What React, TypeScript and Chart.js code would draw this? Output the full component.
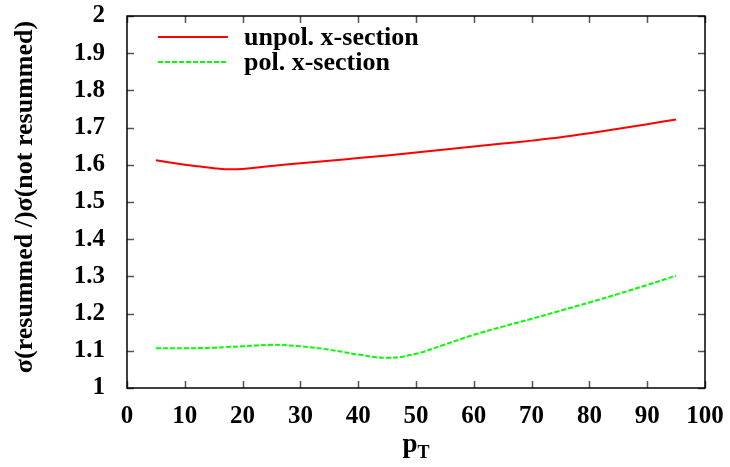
import React, { useEffect, useRef } from "react";
import { Chart, registerables } from "chart.js";

Chart.register(...registerables);

const pT = [5, 10, 15, 17, 20, 25, 30, 35, 40, 45, 50, 55, 60, 65, 70, 75, 80, 85, 90, 95];
const unpol = [1.612, 1.6, 1.591, 1.588, 1.589, 1.597, 1.604, 1.611, 1.618, 1.625, 1.633, 1.641, 1.649, 1.657, 1.665, 1.674, 1.685, 1.697, 1.709, 1.722];
const pol = [1.107, 1.107, 1.108, 1.11, 1.112, 1.116, 1.112, 1.103, 1.09, 1.081, 1.092, 1.117, 1.143, 1.165, 1.186, 1.208, 1.23, 1.253, 1.277, 1.302];
const seriesLabels = ["unpol. x-section", "pol. x-section"];
const xTickValues = [0, 10, 20, 30, 40, 50, 60, 70, 80, 90, 100];
const yTickLabels = ["1", "1.1", "1.2", "1.3", "1.4", "1.5", "1.6", "1.7", "1.8", "1.9", "2"];
const yLabel = "σ(resummed /)σ(not resummed)";
const xLabelMain = "p";
const xLabelSub = "T";

const SERIF = "'Liberation Serif', 'Times New Roman', serif";

const framePlugin = {
  id: "frame",
  afterDraw(chart: any) {
    const { ctx, chartArea: a, scales } = chart;
    ctx.save();
    // inner ticks
    ctx.strokeStyle = "#555";
    ctx.lineWidth = 1.5;
    const tl = 7;
    ctx.beginPath();
    xTickValues.forEach((v) => {
      const px = Math.round(scales.x.getPixelForValue(v)) + 0.5;
      ctx.moveTo(px, a.bottom);
      ctx.lineTo(px, a.bottom - tl);
      ctx.moveTo(px, a.top);
      ctx.lineTo(px, a.top + tl);
    });
    yTickLabels.forEach((s) => {
      const py = Math.round(scales.y.getPixelForValue(parseFloat(s))) + 0.5;
      ctx.moveTo(a.left, py);
      ctx.lineTo(a.left + tl, py);
      ctx.moveTo(a.right, py);
      ctx.lineTo(a.right - tl, py);
    });
    ctx.stroke();
    // border
    ctx.strokeStyle = "#000";
    ctx.lineWidth = 1.5;
    ctx.strokeRect(a.left, a.top, a.right - a.left, a.bottom - a.top);

    // legend
    const ds = chart.data.datasets;
    ctx.font = `bold 26px ${SERIF}`;
    ctx.textBaseline = "middle";
    ctx.textAlign = "left";
    ds.forEach((d: any, i: number) => {
      const y = 37 + i * 25;
      ctx.strokeStyle = d.borderColor;
      ctx.lineWidth = 2;
      ctx.setLineDash(d.borderDash || []);
      ctx.beginPath();
      ctx.moveTo(158, y);
      ctx.lineTo(228, y);
      ctx.stroke();
      ctx.setLineDash([]);
      ctx.fillStyle = "#000";
      ctx.fillText(d.label, 244, y + 1);
    });

    // y axis title
    ctx.save();
    ctx.translate(25, 197);
    ctx.rotate(-Math.PI / 2);
    ctx.font = `bold 26px ${SERIF}`;
    ctx.textAlign = "center";
    ctx.textBaseline = "middle";
    ctx.fillText(yLabel, 0, 0);
    ctx.restore();

    // x axis title
    ctx.font = `bold 27px ${SERIF}`;
    const w1 = ctx.measureText(xLabelMain).width;
    ctx.font = `bold 18px ${SERIF}`;
    const w2 = ctx.measureText(xLabelSub).width;
    const x0 = 416 - (w1 + w2) / 2;
    ctx.textAlign = "left";
    ctx.textBaseline = "alphabetic";
    ctx.font = `bold 27px ${SERIF}`;
    ctx.fillText(xLabelMain, x0, 452);
    ctx.font = `bold 18px ${SERIF}`;
    ctx.fillText(xLabelSub, x0 + w1, 458);
    ctx.restore();
  },
};

export default function App() {
  const ref = useRef<HTMLCanvasElement | null>(null);
  useEffect(() => {
    if (!ref.current) return;
    const chart = new Chart(ref.current, {
      type: "line",
      data: {
        datasets: [
          {
            label: seriesLabels[0],
            data: pT.map((x, i) => ({ x, y: unpol[i] })),
            borderColor: "#ff0000",
            borderWidth: 2,
            pointRadius: 0,
            tension: 0.4,
            fill: false,
          },
          {
            label: seriesLabels[1],
            data: pT.map((x, i) => ({ x, y: pol[i] })),
            borderColor: "#00ff00",
            borderWidth: 2,
            borderDash: [5, 2],
            pointRadius: 0,
            tension: 0.4,
            fill: false,
          },
        ],
      },
      options: {
        animation: false,
        responsive: false,
        devicePixelRatio: 1,
        layout: { padding: { top: 16, right: 25, left: 0, bottom: 0 } },
        plugins: { legend: { display: false }, tooltip: { enabled: false } },
        scales: {
          x: {
            type: "linear",
            min: 0,
            max: 100,
            grid: { display: false },
            border: { display: false },
            afterBuildTicks: (s: any) => {
              s.ticks = xTickValues.map((v) => ({ value: v }));
            },
            afterFit: (s: any) => {
              s.height = 79;
              s.paddingLeft = 0;
              s.paddingRight = 0;
            },
            ticks: {
              color: "#000",
              padding: 6,
              maxRotation: 0,
              autoSkip: false,
              font: { family: SERIF, size: 25, weight: "bold" },
              callback: (v: any) => String(v),
            },
          },
          y: {
            type: "linear",
            min: 1,
            max: 2,
            grid: { display: false },
            border: { display: false },
            afterBuildTicks: (s: any) => {
              s.ticks = yTickLabels.map((l) => ({ value: parseFloat(l) }));
            },
            afterFit: (s: any) => {
              s.width = 127;
              s.paddingTop = 0;
              s.paddingBottom = 0;
            },
            ticks: {
              color: "#000",
              padding: 14,
              autoSkip: false,
              font: { family: SERIF, size: 25, weight: "bold" },
              callback: (_v: any, i: number) => yTickLabels[i],
            },
          },
        },
      },
      plugins: [framePlugin],
    });
    return () => chart.destroy();
  }, []);
  return (
    <div style={{ position: "fixed", left: 0, top: 0, width: 730, height: 467, background: "#fff" }}>
      <canvas ref={ref} width={730} height={467} style={{ width: 730, height: 467 }} />
    </div>
  );
}
